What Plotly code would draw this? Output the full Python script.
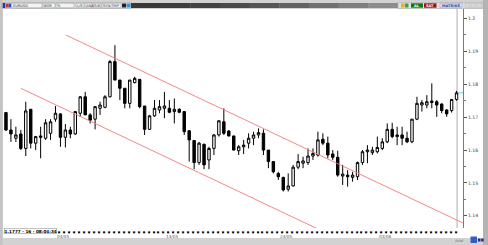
import plotly.graph_objects as go

# ---------------- data ----------------
open_ = [1.1714,1.1661,1.1636,1.1649,1.1605,1.1724,1.1621,1.1643,1.1636,1.1651,
         1.1694,1.1710,1.1639,1.1661,1.1649,1.1712,1.1762,1.1707,1.1694,1.1727,
         1.1730,1.1762,1.1869,1.1813,1.1788,1.1742,1.1805,1.1815,1.1734,1.1663,
         1.1704,1.1722,1.1727,1.1727,1.1717,1.1724,1.1717,1.1659,1.1629,1.1562,
         1.1618,1.1570,1.1605,1.1646,1.1686,1.1658,1.1643,1.1598,1.1610,1.1621,
         1.1636,1.1646,1.1651,1.1600,1.1565,1.1529,1.1517,1.1481,1.1491,1.1548,
         1.1560,1.1562,1.1582,1.1585,1.1633,1.1621,1.1588,1.1578,1.1521,1.1524,
         1.1517,1.1519,1.1562,1.1595,1.1592,1.1595,1.1605,1.1625,1.1663,1.1641,
         1.1646,1.1636,1.1625,1.1694,1.1737,1.1737,1.1749,1.1747,1.1740,1.1722,
         1.1720,1.1754]
high = [1.1716,1.1694,1.1671,1.1661,1.1747,1.1724,1.1643,1.1671,1.1694,1.1694,
        1.1734,1.1712,1.1679,1.1671,1.1719,1.1764,1.1777,1.1712,1.1734,1.1747,
        1.1767,1.1874,1.1919,1.1813,1.1788,1.1813,1.1823,1.1815,1.1734,1.1707,
        1.1752,1.1752,1.1777,1.1752,1.1757,1.1727,1.1717,1.1659,1.1629,1.1625,
        1.1618,1.1610,1.1649,1.1691,1.1727,1.1661,1.1643,1.1615,1.1631,1.1651,
        1.1656,1.1666,1.1663,1.1600,1.1565,1.1534,1.1519,1.1529,1.1555,1.1588,
        1.1580,1.1605,1.1605,1.1656,1.1651,1.1641,1.1600,1.1598,1.1555,1.1539,
        1.1534,1.1565,1.1600,1.1615,1.1610,1.1641,1.1636,1.1681,1.1683,1.1671,
        1.1671,1.1656,1.1694,1.1762,1.1752,1.1767,1.1803,1.1752,1.1742,1.1724,
        1.1754,1.1780]
low = [1.1658,1.1625,1.1625,1.1600,1.1582,1.1605,1.1600,1.1575,1.1631,1.1631,
       1.1686,1.1610,1.1608,1.1636,1.1646,1.1701,1.1707,1.1681,1.1663,1.1707,
       1.1727,1.1760,1.1812,1.1752,1.1727,1.1727,1.1803,1.1727,1.1646,1.1661,
       1.1701,1.1712,1.1697,1.1712,1.1681,1.1712,1.1646,1.1565,1.1542,1.1555,
       1.1542,1.1542,1.1585,1.1641,1.1646,1.1641,1.1600,1.1585,1.1588,1.1605,
       1.1615,1.1636,1.1585,1.1545,1.1529,1.1509,1.1474,1.1474,1.1489,1.1542,
       1.1545,1.1555,1.1570,1.1580,1.1615,1.1575,1.1570,1.1519,1.1494,1.1489,
       1.1504,1.1509,1.1555,1.1560,1.1585,1.1590,1.1600,1.1621,1.1636,1.1615,
       1.1615,1.1621,1.1621,1.1691,1.1717,1.1727,1.1727,1.1701,1.1712,1.1701,
       1.1714,1.1750]
close = [1.1661,1.1649,1.1646,1.1605,1.1719,1.1621,1.1641,1.1639,1.1683,1.1686,
         1.1712,1.1639,1.1661,1.1649,1.1717,1.1762,1.1707,1.1691,1.1732,1.1737,
         1.1762,1.1869,1.1813,1.1788,1.1742,1.1813,1.1818,1.1732,1.1663,1.1704,
         1.1727,1.1732,1.1734,1.1715,1.1724,1.1715,1.1656,1.1631,1.1562,1.1621,
         1.1555,1.1605,1.1646,1.1689,1.1651,1.1643,1.1600,1.1610,1.1615,1.1636,
         1.1646,1.1653,1.1600,1.1565,1.1534,1.1519,1.1479,1.1491,1.1548,1.1565,
         1.1567,1.1582,1.1590,1.1631,1.1621,1.1585,1.1578,1.1524,1.1527,1.1519,
         1.1524,1.1562,1.1595,1.1600,1.1600,1.1608,1.1625,1.1663,1.1641,1.1646,
         1.1636,1.1625,1.1694,1.1742,1.1744,1.1747,1.1745,1.1737,1.1720,1.1710,
         1.1754,1.1774]

price_ticks = [1.14, 1.15, 1.16, 1.17, 1.18, 1.19, 1.20]
price_labels = ["1.14", "1.15", "1.16", "1.17", "1.18", "1.19", "1.2"]
date_idx = [10, 32, 55, 75]
date_labels = ["04/05", "14/05", "24/05", "03/06"]

# channel lines: (bar index, price) endpoints
upper_channel = [(12.1, 1.19498), (92.3, 1.13783)]
lower_channel = [(3.0, 1.17878), (63.4, 1.13573)]

status_text = "1.1777 - 16 - 08:04:34"

n = len(close)
xs = list(range(n))

# ---------------- layout geometry (pixels) ----------------
WPX, HPX = 488, 245
L, R, T, B = 3, 463, 9, 228
PW, PH = R - L, B - T
X_RANGE = [-0.6, 92.3]
Y_RANGE = [1.13631, 1.20289]

def PX(x):
    return (x - L) / PW

def PY(y):
    return (B - y) / PH

fig = go.Figure()
fig.add_trace(go.Candlestick(
    x=xs, open=open_, high=high, low=low, close=close,
    increasing=dict(line=dict(color="#000000", width=1), fillcolor="#ffffff"),
    decreasing=dict(line=dict(color="#000000", width=1), fillcolor="#000000"),
    whiskerwidth=0, showlegend=False, hoverinfo="skip",
))

shapes = []
annos = []

def rect(x0, y0, x1, y1, fill, line=None, layer="above", lw=0.6):
    shapes.append(dict(type="rect", xref="paper", yref="paper",
                       x0=PX(x0), x1=PX(x1), y0=PY(y0), y1=PY(y1),
                       fillcolor=fill, line=dict(color=line or fill, width=lw if line else 0),
                       layer=layer))

def text(x, y, s, size=4, color="#000", xanchor="left", bold=False, bg=None, border=None):
    annos.append(dict(xref="paper", yref="paper", x=PX(x), y=PY(y), text=(f"<b>{s}</b>" if bold else s),
                      showarrow=False, xanchor=xanchor, yanchor="middle",
                      font=dict(size=size, color=color, family="DejaVu Sans"),
                      bgcolor=bg, bordercolor=border, borderwidth=(0.6 if border else 0), borderpad=0))

# chart white area
rect(3, 9, 483, 238, "#ffffff", layer="below")
# right border
rect(483, 0, 488, 245, "#b4b4b4")
rect(0, 0, 2.6, 245, "#c4c4c4")

# toolbar
rect(2, 2.5, 131, 8.5, "#e4e4e4", line="#b0b0b0")
rect(2.6, 3, 5.4, 8, "#1f3f9f")
rect(6, 3.5, 8.5, 7.5, "#d83030")
rect(8.5, 3.5, 11, 7.5, "#3050c0")
for (x0, x1, s) in [(11.5, 42, "EURUSD"), (43, 55, "BGR"), (56, 74, "%"),
                    (76, 84, "L/S"), (85, 92, "ANA"), (93, 101, "S/B"), (102, 121, "SYN/TMP")]:
    rect(x0, 3.2, x1, 7.8, "#f4f4f4", line="#9a9a9a")
    text(x0 + 1, 5.5, s, size=3.6, color="#333")
rect(122, 3.5, 126, 7.5, "#202020")
rect(126.5, 3.5, 130.5, 7.5, "#2f8fe0")
# dark gradient bar
shades = ["#383838", "#3c3c3c", "#424242", "#4a4a4a", "#555555", "#626262", "#707070", "#7e7e7e", "#8c8c8c"]
segw = (398 - 131) / len(shades)
for k, c in enumerate(shades):
    rect(131 + k * segw, 3, 131 + (k + 1) * segw + 0.3, 8, c)
rect(398, 2.5, 483, 8.5, "#e0e0e0", line="#b0b0b0")
rect(401, 3.5, 404.5, 7.5, "#e8b020")
rect(405, 3.5, 408.5, 7.5, "#40a040")
rect(411, 3.3, 423, 7.7, "#0c7a18")
text(417, 5.5, "AL", size=3.6, color="#ffffff", xanchor="center", bold=True)
rect(424, 3.3, 436.5, 7.7, "#9a1020")
text(430.2, 5.5, "SAT", size=3.6, color="#ffffff", xanchor="center", bold=True)
rect(440, 3.3, 462, 7.7, "#dfe4f4", line="#9aa4c8")
text(451, 5.5, "MATRIKS", size=3.6, color="#2040a0", xanchor="center", bold=True)
for x0 in [465, 471, 477]:
    rect(x0, 3.5, x0 + 5, 7.5, "#d8d8d8", line="#c0c0c0")

# bottom status
text(3.5, 231.5, status_text, size=4.2, color="#000", bold=True, bg="#ffffff", border="#9a9a9a")
text(463, 241, "Arial", size=3.6, color="#666", xanchor="right")
rect(470.5, 236.5, 477, 243, "#3060c0")
rect(478, 238.5, 480.5, 241.5, "#203080")
rect(481.2, 238.5, 483.7, 241.5, "#203080")

# date labels under the dotted time scale
for i, s in zip(date_idx, date_labels):
    annos.append(dict(xref="x", yref="paper", x=i, y=PY(236.3), text=s, showarrow=False,
                      xanchor="left", yanchor="middle",
                      font=dict(size=4.2, color="#555", family="DejaVu Sans")))

# channel lines
for (p0, p1) in [upper_channel, lower_channel]:
    shapes.append(dict(type="line", xref="x", yref="y", x0=p0[0], y0=p0[1], x1=p1[0], y1=p1[1],
                       line=dict(color="#f07a7a", width=0.9), layer="above"))

# cursor line at last bar and current price marker
shapes.append(dict(type="line", xref="x", yref="paper", x0=n - 1 + 0.1, x1=n - 1 + 0.1, y0=0, y1=1,
                   line=dict(color="#b0b0b0", width=1), layer="below"))
shapes.append(dict(type="line", xref="x", yref="y", x0=n - 1 + 0.3, x1=X_RANGE[1], y0=close[-1], y1=close[-1],
                   line=dict(color="#6cd4ea", width=1)))

fig.update_layout(
    width=WPX, height=HPX,
    margin=dict(l=L, r=WPX - R, t=T, b=HPX - B, pad=0),
    paper_bgcolor="#d2d2d2", plot_bgcolor="#ffffff",
    shapes=shapes, annotations=annos, showlegend=False,
    xaxis=dict(range=X_RANGE, rangeslider=dict(visible=False), showgrid=False, zeroline=False,
               tickmode="array", tickvals=xs, ticktext=["▪"] * n, ticks="",
               tickfont=dict(size=4, color="#000", family="DejaVu Sans"),
               showline=False, fixedrange=True),
    yaxis=dict(range=Y_RANGE, side="right", showgrid=False, zeroline=False,
               tickmode="array", tickvals=price_ticks, ticktext=price_labels,
               ticks="outside", ticklen=3, tickwidth=1, tickcolor="#555",
               minor=dict(tickvals=[1.145, 1.155, 1.165, 1.175, 1.185, 1.195], ticks="outside",
                          ticklen=2, tickcolor="#777"),
               showline=True, linecolor="#7a7a7a", linewidth=1,
               tickfont=dict(size=4.6, color="#333", family="DejaVu Sans")),
)

fig.write_html("out.html")
